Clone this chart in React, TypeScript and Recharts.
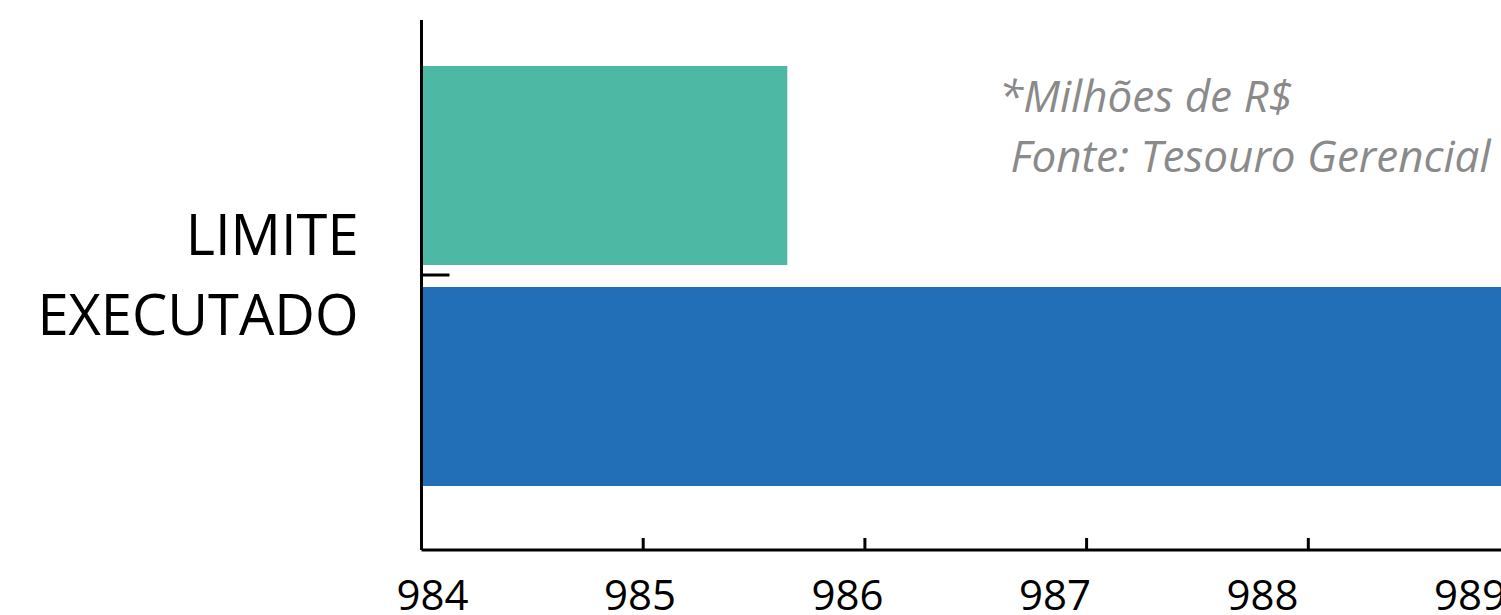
import React from "react";
import { BarChart, Bar, XAxis, YAxis } from "recharts";

const seriesNames = ["LIMITE", "EXECUTADO"];
const categories = ["Total"];
const limiteValues = [985.65];
const executadoValues = [988.98];
const xTicks = [984, 985, 986, 987, 988, 989];
const notes = ["*Milhões de R$", " Fonte: Tesouro Gerencial"];

const data = categories.map((c, i) => ({
  name: c,
  limite: limiteValues[i],
  executado: executadoValues[i],
}));

const FONT = "'Open Sans', sans-serif";

const YTick = (props: any) => {
  const { x, y } = props;
  return (
    <g>
      <line x1={x + 1.5} y1={y - 1} x2={x + 28} y2={y - 1} stroke="#000" strokeWidth={3} />
      <text x={x - 63} y={y - 21} textAnchor="end" fontFamily={FONT} fontSize={56} fill="#000">
        {seriesNames[0]}
      </text>
      <text x={x - 63} y={y + 59} textAnchor="end" fontFamily={FONT} fontSize={56} fill="#000">
        {seriesNames[1]}
      </text>
    </g>
  );
};

const XTick = (props: any) => {
  const { x, y, payload, index } = props;
  const dx = 11 - index * 14.2;
  return (
    <g>
      <line x1={x} y1={y} x2={x} y2={y - 12} stroke="#000" strokeWidth={3} />
      <text x={x + dx} y={y + 60} textAnchor="middle" fontFamily={FONT} fontSize={42} fill="#000">
        {payload.value}
      </text>
    </g>
  );
};

export default function App() {
  return (
    <div style={{ position: "absolute", left: 0, top: 0, width: 1501, height: 615, overflow: "hidden", background: "#fff" }}>
      <BarChart
        layout="vertical"
        width={1560}
        height={615}
        data={data}
        margin={{ top: 20, right: 30, left: 0, bottom: 0 }}
        barSize={199}
        barGap={22}
      >
        <XAxis
          type="number"
          domain={[984, 989]}
          ticks={xTicks}
          allowDataOverflow
          height={65}
          axisLine={{ stroke: "#000", strokeWidth: 3 }}
          tickLine={false}
          tickSize={0}
          tickMargin={0}
          tick={<XTick />}
          interval={0}
        />
        <YAxis
          type="category"
          dataKey="name"
          width={421.5}
          padding={{ top: 0, bottom: 18 }}
          axisLine={{ stroke: "#000", strokeWidth: 3 }}
          tickLine={false}
          tickSize={0}
          tickMargin={0}
          tick={<YTick />}
        />
        <Bar dataKey="limite" name={seriesNames[0]} fill="#4db8a4" isAnimationActive={false} />
        <Bar dataKey="executado" name={seriesNames[1]} fill="#226fb8" isAnimationActive={false} />
      </BarChart>
      <svg width={1501} height={615} style={{ position: "absolute", left: 0, top: 0, pointerEvents: "none" }}>
        <text x={999} y={112} fontFamily={FONT} fontStyle="italic" fontSize={44} fill="#8a8a8a">
          {notes[0]}
        </text>
        <text x={999} y={172} fontFamily={FONT} fontStyle="italic" fontSize={44} fill="#8a8a8a" style={{ whiteSpace: "pre" }}>
          {notes[1]}
        </text>
      </svg>
    </div>
  );
}
